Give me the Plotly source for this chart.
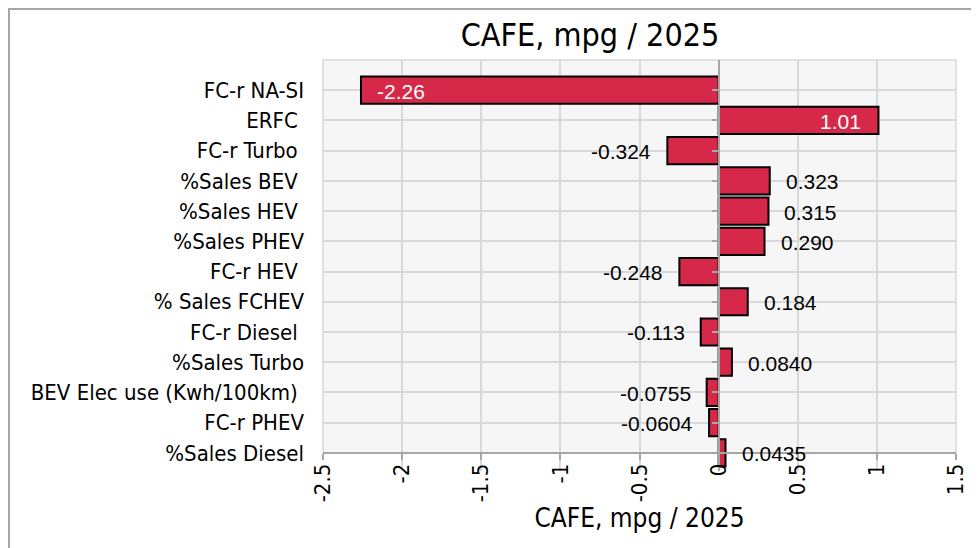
import plotly.graph_objects as go

categories = ["FC-r NA-SI", "ERFC\u00a0", "FC-r Turbo\u00a0", "%Sales BEV\u00a0", "%Sales HEV\u00a0",
              "%Sales PHEV", "FC-r HEV\u00a0", "% Sales FCHEV", "FC-r Diesel\u00a0", "%Sales Turbo",
              "BEV Elec use (Kwh/100km)\u00a0", "FC-r PHEV", "%Sales Diesel"]
values = [-2.26, 1.01, -0.324, 0.323, 0.315, 0.290, -0.248, 0.184, -0.113, 0.0840,
          -0.0755, -0.0604, 0.0435]
value_labels = ["-2.26", "1.01", "-0.324", "0.323", "0.315", "0.290", "-0.248", "0.184",
                "-0.113", "0.0840", "-0.0755", "-0.0604", "0.0435"]
x_tick_vals = [-2.5, -2, -1.5, -1, -0.5, 0, 0.5, 1, 1.5]
x_tick_text = ["-2.5", "-2", "-1.5", "-1", "-0.5", "0", "0.5", "1", "1.5"]

title_text = "CAFE, mpg / 2025"
x_title = "CAFE, mpg / 2025"

XMIN, XMAX = -2.5, 1.5
N = len(categories)
EXT = 0.6                      # room below the category axis so the last bar is not cut
W, H = 971, 540                # page body adds an 8px margin
L, R, T = 315, 23, 52
unit = 393 / N                 # px per category slot
plot_h = unit * (N + EXT)
B = H - T - plot_h
pw = W - L - R
axis_pos = EXT / (N + EXT)

cat_font = "DejaVu Sans Condensed, DejaVu Sans, sans-serif"
num_font = "Liberation Sans, Arial, sans-serif"

fig = go.Figure()
fig.add_trace(go.Bar(
    x=values, y=categories, orientation="h", width=0.9,
    marker=dict(color="#d6294a", line=dict(color="#000000", width=2)),
    hoverinfo="x+y", showlegend=False,
))
fig.add_trace(go.Scatter(
    x=[0] * N, y=categories, yaxis="y2", mode="markers",
    marker=dict(opacity=0), hoverinfo="skip", showlegend=False,
))

annotations = []
for c, v, t in zip(categories, values, value_labels):
    inside = abs(v) > 0.5
    if v < 0:
        anchor = "left" if inside else "right"
        shift = 14 if inside else -14
    else:
        anchor = "right" if inside else "left"
        shift = -15 if inside else 14
    annotations.append(dict(
        x=v, y=c, xref="x", yref="y", text=t, showarrow=False,
        xanchor=anchor, yanchor="middle", xshift=shift, yshift=-1,
        font=dict(family=num_font, size=21, color="#ffffff" if inside else "#000000"),
    ))

zero_pos = (0 - XMIN) / (XMAX - XMIN)
yrange = [N - 1 + EXT, -1]

fig.update_layout(
    width=W, height=H,
    margin=dict(l=L, r=R, t=T, b=B, autoexpand=False),
    paper_bgcolor="#ffffff", plot_bgcolor="#f6f6f6",
    title=dict(text=title_text, x=(582 - L) / pw, xref="paper", xanchor="center",
               y=1 - 27 / H, yref="container", yanchor="middle",
               font=dict(family=cat_font, size=32, color="#000000")),
    xaxis=dict(range=[XMIN, XMAX], tickvals=x_tick_vals, ticktext=x_tick_text,
               anchor="free", position=axis_pos,
               tickangle=-90, showgrid=True, gridcolor="#d9d9d9", gridwidth=1.5,
               zeroline=False, showline=True, linecolor="#a6a6a6", linewidth=2,
               ticks="outside", ticklen=6, tickcolor="#a6a6a6", tickwidth=1.5,
               ticklabelstandoff=-5,
               tickfont=dict(family=cat_font, size=22, color="#000000"),
               title=dict(text=x_title, standoff=7,
                          font=dict(family=cat_font, size=26, color="#000000"))),
    yaxis=dict(type="category", categoryorder="array", categoryarray=categories,
               range=yrange, showgrid=True, gridcolor="#d9d9d9", gridwidth=1.5,
               zeroline=False, showline=False, ticks="", ticklabelstandoff=18,
               tickfont=dict(family=cat_font, size=22, color="#000000")),
    yaxis2=dict(type="category", categoryorder="array", categoryarray=categories,
                range=yrange, overlaying="y", anchor="free", position=zero_pos,
                side="left", showgrid=False, zeroline=False, showline=True,
                linecolor="#a6a6a6", linewidth=2, ticks="outside", ticklen=6,
                tickcolor="#a6a6a6", tickwidth=1.5, showticklabels=False),
    annotations=annotations,
    shapes=[
        # hide the strip of plot area below the category axis
        dict(type="rect", xref="paper", yref="paper", x0=-0.01, x1=1.01, y0=-0.01, y1=axis_pos,
             fillcolor="#ffffff", line=dict(width=0), layer="between"),
        dict(type="rect", xref="paper", yref="paper", x0=0, x1=1, y0=axis_pos, y1=1,
             line=dict(color="#d9d9d9", width=1.5), layer="between"),
        dict(type="rect", xref="paper", yref="paper",
             x0=(1 - L) / pw, x1=(W + 10 - L) / pw,
             y0=-(H + 10 - (H - B)) / plot_h, y1=((H - B) - 1) / plot_h,
             line=dict(color="#a6a6a6", width=2), layer="below"),
    ],
)

fig.write_html("out.html")
